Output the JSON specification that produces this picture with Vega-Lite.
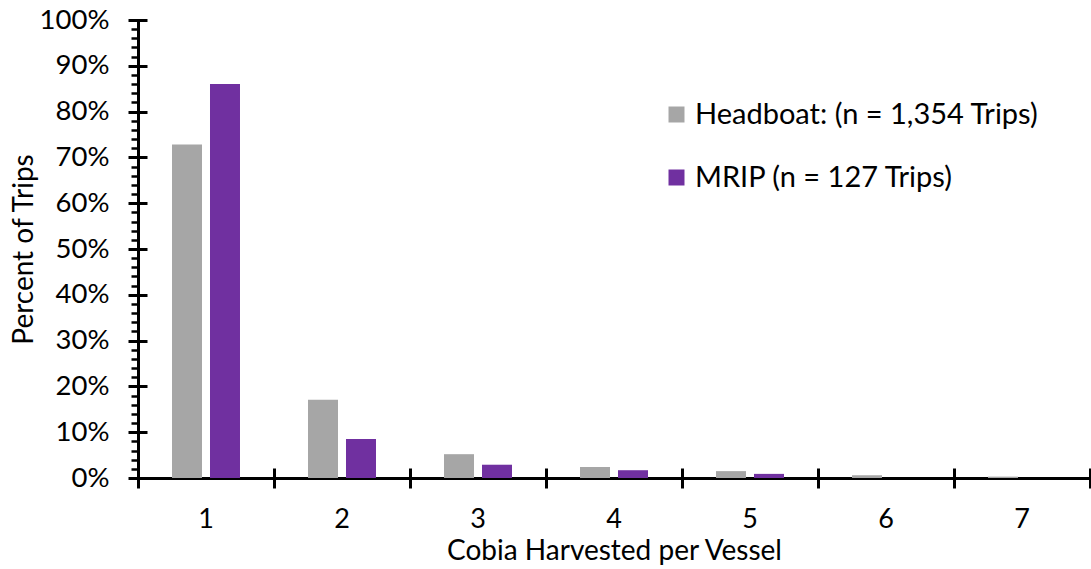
{
  "$schema": "https://vega.github.io/schema/vega-lite/v6.json",
  "width": 952,
  "height": 458,
  "autosize": {"type": "none"},
  "padding": {"left": 138, "top": 20, "right": 1, "bottom": 91},
  "background": "white",
  "config": {
    "view": {"stroke": null},
    "font": "Lato",
    "axis": {"labelColor": "#000", "titleColor": "#000", "domainColor": "#000", "tickColor": "#000", "grid": false, "labelFont": "Lato", "titleFont": "Lato", "titleFontWeight": "normal"},
    "legend": {"labelFont": "Lato", "labelColor": "#000"}
  },
  "data": {
    "values": [
      {"series": "Headboat", "cobia": "1", "pct": 0.728},
      {"series": "Headboat", "cobia": "2", "pct": 0.171},
      {"series": "Headboat", "cobia": "3", "pct": 0.052},
      {"series": "Headboat", "cobia": "4", "pct": 0.024},
      {"series": "Headboat", "cobia": "5", "pct": 0.015},
      {"series": "Headboat", "cobia": "6", "pct": 0.006},
      {"series": "Headboat", "cobia": "7", "pct": 0.003},
      {"series": "MRIP", "cobia": "1", "pct": 0.860},
      {"series": "MRIP", "cobia": "2", "pct": 0.085},
      {"series": "MRIP", "cobia": "3", "pct": 0.029},
      {"series": "MRIP", "cobia": "4", "pct": 0.017},
      {"series": "MRIP", "cobia": "5", "pct": 0.009},
      {"series": "MRIP", "cobia": "6", "pct": 0.0},
      {"series": "MRIP", "cobia": "7", "pct": 0.0}
    ]
  },
  "encoding": {
    "x": {"field": "cobia", "type": "ordinal", "scale": {"paddingInner": 0, "paddingOuter": 0}},
    "xOffset": {"field": "series", "type": "nominal", "scale": {"domain": ["Headboat", "MRIP"], "paddingInner": 0.2105, "paddingOuter": 0.895}},
    "y": {"field": "pct", "type": "quantitative", "scale": {"domain": [0, 1], "nice": false}},
    "color": {
      "field": "series", "type": "nominal",
      "scale": {"domain": ["Headboat", "MRIP"], "range": ["#A6A6A6", "#7030A0"]},
      "legend": {
        "orient": "none", "legendX": 524, "legendY": 80, "title": null,
        "symbolType": "square", "symbolSize": 256, "symbolStrokeWidth": 0,
        "labelFontSize": 29, "labelOffset": 4, "rowPadding": 33, "padding": 0,
        "labelExpr": "datum.label == 'Headboat' ? 'Headboat: (n = 1,354 Trips)' : 'MRIP (n = 127 Trips)'",
        "labelLimit": 500
      }
    }
  },
  "layer": [
    {
      "transform": [{"filter": "datum.series === 'Headboat'"}],
      "mark": {"type": "bar"},
      "encoding": {
        "x": {"field": "cobia", "type": "ordinal", "title": "Cobia Harvested per Vessel",
          "axis": {"labelAngle": 0, "ticks": false, "domain": true, "domainWidth": 3, "labelFontSize": 27, "labelPadding": 28, "titleFontSize": 28, "titlePadding": 5}},
        "y": {"field": "pct", "type": "quantitative", "title": "Percent of Trips",
          "axis": {"values": [0, 0.1, 0.2, 0.3, 0.4, 0.5, 0.6, 0.7, 0.8, 0.9, 1], "format": ".0%", "offset": -9, "tickSize": 19, "tickWidth": 3, "domain": false, "labelFontSize": 27.5, "labelPadding": 19, "titleFontSize": 28, "titlePadding": 1}}
      }
    },
    {
      "transform": [{"filter": "datum.series === 'MRIP'"}],
      "mark": {"type": "bar"},
      "encoding": {
        "x": {"field": "cobia", "type": "ordinal",
          "axis": {"orient": "bottom", "title": null, "labels": false, "domain": false, "bandPosition": 1, "tickExtra": true, "tickSize": 20, "tickWidth": 3, "offset": -10}},
        "y": {"field": "pct", "type": "quantitative",
          "axis": {"orient": "left", "title": null, "labels": false, "domain": true, "domainWidth": 3, "values": [0, 0.02, 0.04, 0.06, 0.08, 0.1, 0.12, 0.14, 0.16, 0.18, 0.2, 0.22, 0.24, 0.26, 0.28, 0.3, 0.32, 0.34, 0.36, 0.38, 0.4, 0.42, 0.44, 0.46, 0.48, 0.5, 0.52, 0.54, 0.56, 0.58, 0.6, 0.62, 0.64, 0.66, 0.68, 0.7, 0.72, 0.74, 0.76, 0.78, 0.8, 0.82, 0.84, 0.86, 0.88, 0.9, 0.92, 0.94, 0.96, 0.98, 1], "tickSize": 7, "tickWidth": 2.5}}
      }
    }
  ],
  "resolve": {"axis": {"x": "independent", "y": "independent"}}
}
